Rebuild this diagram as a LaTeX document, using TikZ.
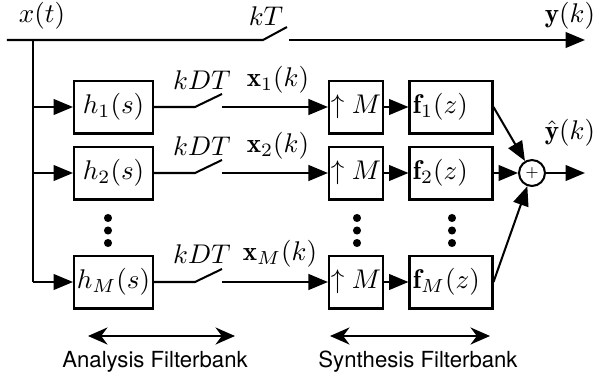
\documentclass[tikz,border=0pt]{standalone}
\usepackage{fontspec}
\setsansfont{TeX Gyre Heros}
\usetikzlibrary{arrows.meta}
\begin{document}
\begin{tikzpicture}[x=0.37pt,y=-0.37pt,line width=0.75pt,
  arr/.style={-{Triangle[length=7.2pt,width=5.8pt]}},
  dbl/.style={{Stealth[length=7.2pt,width=6.3pt]}-{Stealth[length=7.2pt,width=6.3pt]}},
  hbox/.style={draw,minimum width=29.2pt,minimum height=19.6pt,inner sep=0pt},
  ubox/.style={draw,minimum width=20pt,minimum height=19.6pt,inner sep=0pt},
  fbox/.style={draw,minimum height=19.6pt,text width=28.3pt,inner sep=1.2pt,align=left},
  sumc/.style={draw,circle,minimum size=9.6pt,inner sep=0pt},
  lab/.style={inner sep=0pt},
  dotc/.style={fill,circle,inner sep=0pt,minimum size=3pt},
  captext/.style={inner sep=0pt,font=\fontsize{8.2}{10}\sffamily}]
\useasboundingbox (0,0) rectangle (593,383);
% blocks
\node[hbox] (h1) at (113.5,107) {$h_1(s)$};
\node[hbox] (h2) at (113.5,173) {$h_2(s)$};
\node[hbox] (hM) at (113.5,282) {$h_M(s)$};
\node[ubox] (u1) at (356,107) {$\uparrow M$};
\node[ubox] (u2) at (356,173) {$\uparrow M$};
\node[ubox] (uM) at (356,282) {$\uparrow M$};
\node[fbox] (f1) at (451,107) {$\mathbf{f}_1(z)$};
\node[fbox] (f2) at (451,173) {$\mathbf{f}_2(z)$};
\node[fbox] (fM) at (451,282) {$\mathbf{f}_M(z)$};
\node[sumc] (sum) at (532,173) {\tiny$+$};
% coordinates
\coordinate (xin) at (7,40);
\coordinate (j0) at (33,40);
\coordinate (j1) at (33,107);
\coordinate (j2) at (33,173);
\coordinate (jM) at (33,282);
\coordinate (tsa) at (263,40);
\coordinate (tsb) at (287,27);
\coordinate (tsc) at (289,40);
\coordinate (yout) at (585,40);
\coordinate (s1a) at (195,107); \coordinate (s1b) at (222,94); \coordinate (s1c) at (222,107);
\coordinate (s2a) at (195,173); \coordinate (s2b) at (222,160); \coordinate (s2c) at (222,173);
\coordinate (sMa) at (195,282); \coordinate (sMb) at (222,269); \coordinate (sMc) at (222,282);
\coordinate (yhat) at (585,173);
\coordinate (aL) at (88,336); \coordinate (aR) at (235,336);
\coordinate (bL) at (330,336); \coordinate (bR) at (490,336);
% top path
\draw (xin) -- (tsa) -- (tsb);
\draw[arr] (tsc) -- (yout);
\draw (j0) -- (jM);
\draw[arr] (j1) -- (h1.west);
\draw[arr] (j2) -- (h2.west);
\draw[arr] (jM) -- (hM.west);
% rows
\draw (h1.east) -- (s1a) -- (s1b);
\draw (h2.east) -- (s2a) -- (s2b);
\draw (hM.east) -- (sMa) -- (sMb);
\draw[arr] (s1c) -- (u1.west);
\draw[arr] (s2c) -- (u2.west);
\draw[arr] (sMc) -- (uM.west);
\draw[arr] (u1) -- (f1);
\draw[arr] (u2) -- (f2);
\draw[arr] (uM) -- (fM);
\draw[arr] (f1.east) -- (sum);
\draw[arr] (f2.east) -- (sum);
\draw[arr] (fM.east) -- (sum);
\draw[arr] (sum) -- (yhat);
% dots
\foreach \x/\n in {108/a,357/b,452/c}{
  \node[dotc] (d\n1) at (\x,218) {};
  \node[dotc] (d\n2) at (\x,230.5) {};
  \node[dotc] (d\n3) at (\x,243) {};
}
% labels
\node[lab] (lx) at (42,16) {$x(t)$};
\node[lab] (lkT) at (266,16) {$kT$};
\node[lab] (ly) at (570,16) {$\mathbf{y}(k)$};
\node[lab] (lyh) at (570,133) {$\hat{\mathbf{y}}(k)$};
\node[lab] (k1) at (202,80) {$kDT$};
\node[lab] (k2) at (202,146) {$kDT$};
\node[lab] (kM) at (202,254) {$kDT$};
\node[lab] (x1) at (278,80) {$\mathbf{x}_1(k)$};
\node[lab] (x2) at (278,146) {$\mathbf{x}_2(k)$};
\node[lab] (xM) at (280,254) {$\mathbf{x}_M(k)$};
% bottom
\draw[dbl] (aL) -- (aR);
\draw[dbl] (bL) -- (bR);
\node[captext] (ca) at (155,362) {Analysis Filterbank};
\node[captext] (cs) at (418,362) {Synthesis Filterbank};
\end{tikzpicture}
\end{document}
